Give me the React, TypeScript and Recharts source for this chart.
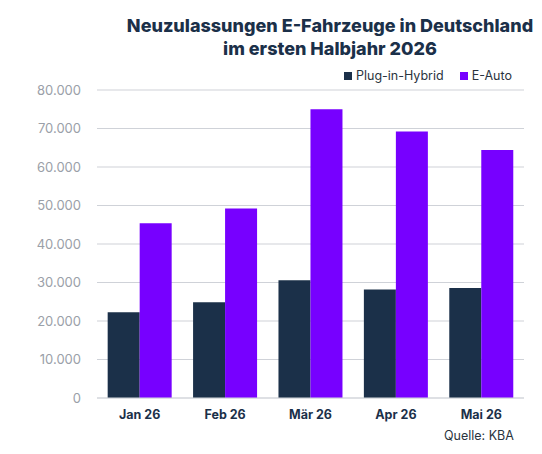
import { Bar, BarChart, CartesianGrid, XAxis, YAxis } from "recharts";

const MONTHS = ["Jan 26", "Feb 26", "Mär 26", "Apr 26", "Mai 26"];
const PLUG_IN_HYBRID = [22300, 24900, 30600, 28200, 28600];
const E_AUTO = [45400, 49200, 75000, 69200, 64400];
const Y_TICKS = [0, 10000, 20000, 30000, 40000, 50000, 60000, 70000, 80000];

const NAVY = "#1b3049";
const PURPLE = "#7700ff";
const FONT = "Inter, 'Noto Sans', sans-serif";

const data = MONTHS.map((m, i) => ({ month: m, phev: PLUG_IN_HYBRID[i], bev: E_AUTO[i] }));

function fmt(v: number): string {
  return String(v).replace(/\B(?=(\d{3})+(?!\d))/g, ".");
}

function LegendBox() {
  const items = [
    { name: "Plug-in-Hybrid", color: NAVY },
    { name: "E-Auto", color: PURPLE },
  ];
  return (
    <div
      style={{
        position: "absolute",
        left: 344,
        top: 68,
        display: "flex",
        gap: 16,
        fontFamily: FONT,
        fontSize: 12.5,
        color: "#2a3440",
      }}
    >
      {items.map((it) => (
        <span key={it.name} style={{ display: "flex", alignItems: "center" }}>
          <span style={{ width: 8, height: 8, background: it.color, marginRight: 4, display: "inline-block" }} />
          {it.name}
        </span>
      ))}
    </div>
  );
}

export default function App() {
  return (
    <div style={{ position: "absolute", left: 0, top: 0, width: 542, height: 454, background: "#fff" }}>
      <BarChart
        width={542}
        height={454}
        data={data}
        margin={{ top: 90, right: 18, left: 0, bottom: 26 }}
        barCategoryGap="12.5%"
        barGap={0}
      >
        <CartesianGrid vertical={false} stroke="#cfd2d8" strokeWidth={1.2} />
        <XAxis
          dataKey="month"
          height={30}
          tickLine={false}
          axisLine={{ stroke: "#d5d8dd" }}
          tick={{ fill: NAVY, fontSize: 12.5, fontWeight: 700, fontFamily: FONT }}
          tickMargin={6}
        />
        <YAxis
          width={97}
          domain={[0, 80000]}
          ticks={Y_TICKS}
          tickFormatter={fmt}
          axisLine={false}
          tickLine={false}
          tickMargin={10}
          tick={{ fill: "#9aa0a8", fontSize: 13, fontFamily: FONT }}
        />
        <Bar dataKey="phev" name="Plug-in-Hybrid" fill={NAVY} isAnimationActive={false} />
        <Bar dataKey="bev" name="E-Auto" fill={PURPLE} isAnimationActive={false} />
      </BarChart>
      <div
        style={{
          position: "absolute",
          left: 100,
          width: 460,
          top: 14,
          textAlign: "center",
          fontFamily: FONT,
          fontWeight: 800,
          fontSize: 18,
          lineHeight: "23px",
          color: NAVY,
        }}
      >
        Neuzulassungen E-Fahrzeuge in Deutschland
        <br />
        im ersten Halbjahr 2026
      </div>
      <LegendBox />
      <div
        style={{
          position: "absolute",
          left: 444,
          top: 428,
          fontFamily: FONT,
          fontSize: 12.5,
          color: "#2a3440",
        }}
      >
        Quelle: KBA
      </div>
    </div>
  );
}
